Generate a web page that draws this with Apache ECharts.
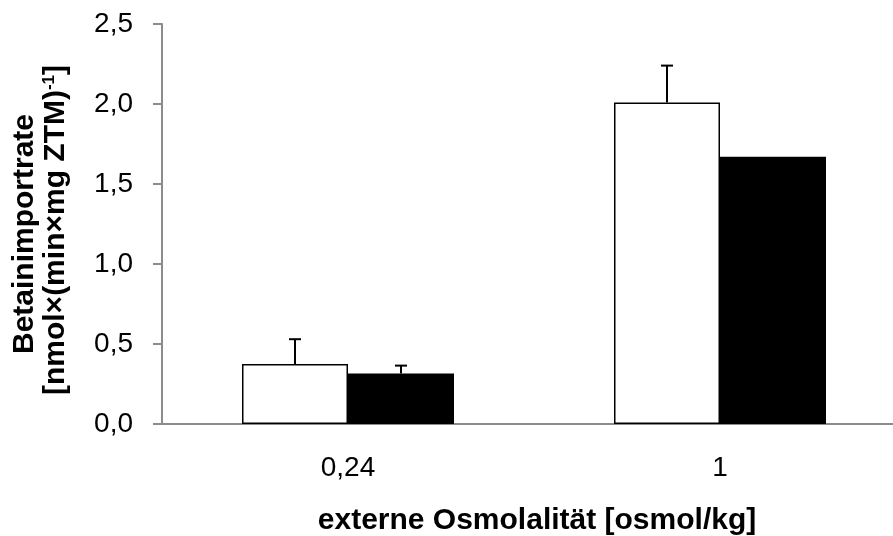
<!DOCTYPE html>
<html><head><meta charset="utf-8">
<script src="https://cdn.jsdelivr.net/npm/echarts@6/dist/echarts.min.js"></script>
<style>html,body{margin:0;padding:0;background:#fff}#c{width:893px;height:536px}</style>
</head><body><div id="c"></div>
<script>
var categories = ['0,24', '1'];
var whiteValues = [0.375, 2.01];
var whiteErrors = [0.155, 0.23];
var blackValues = [0.315, 1.67];
var blackErrors = [0.05, null];
var yTicks = [0, 0.5, 1.0, 1.5, 2.0, 2.5];

var BAR_W = 106;
var FONT = 'Liberation Sans, Arial, sans-serif';

function errData(vals, errs) {
  var out = [];
  for (var i = 0; i < vals.length; i++) {
    if (errs[i] != null) out.push([i, vals[i], vals[i] + errs[i]]);
  }
  return out;
}
function errRender(sign) {
  return function (params, api) {
    var i = api.value(0);
    var lo = api.coord([i, api.value(1)]);
    var hi = api.coord([i, api.value(2)]);
    var x = lo[0] + sign * BAR_W / 2;
    var cap = 6;
    return {
      type: 'group',
      children: [
        { type: 'line', shape: { x1: x, y1: lo[1], x2: x, y2: hi[1] }, style: { stroke: '#000', lineWidth: 2 } },
        { type: 'line', shape: { x1: x - cap, y1: hi[1], x2: x + cap, y2: hi[1] }, style: { stroke: '#000', lineWidth: 2 } }
      ]
    };
  };
}

var chart = echarts.init(document.getElementById('c'), null, { renderer: 'canvas' });
chart.setOption({
  animation: false,
  backgroundColor: '#fff',
  grid: { left: 162, width: 744, top: 24, bottom: 112, containLabel: false, outerBoundsMode: 'none' },
  xAxis: {
    type: 'category',
    data: categories,
    axisLine: { lineStyle: { color: '#8c8c8c', width: 2 } },
    axisTick: { show: false },
    axisLabel: { color: '#000', fontSize: 28, fontFamily: FONT, margin: 30 },
    splitLine: { show: false }
  },
  yAxis: {
    type: 'value',
    min: 0, max: 2.5, interval: 0.5,
    axisLine: { show: true, lineStyle: { color: '#8c8c8c', width: 2 } },
    axisTick: { show: true, inside: false, length: 9, lineStyle: { color: '#8c8c8c', width: 2 } },
    axisLabel: {
      color: '#000', fontSize: 28, fontFamily: FONT, margin: 29,
      formatter: function (v) { return v.toFixed(1).replace('.', ','); }
    },
    splitLine: { show: false }
  },
  graphic: [
    {
      type: 'text', x: 537, y: 521,
      style: { text: 'externe Osmolalität [osmol/kg]', font: 'bold 30px ' + FONT, fill: '#000', align: 'center', verticalAlign: 'middle' }
    },
    {
      type: 'text', x: 25, y: 234, rotation: Math.PI / 2,
      style: { text: 'Betainimportrate', font: 'bold 30px ' + FONT, fill: '#000', align: 'center', verticalAlign: 'middle' }
    },
    {
      type: 'text', x: 56, y: 230, rotation: Math.PI / 2,
      style: {
        text: '{b|[nmol×(min×mg ZTM)}{s|-1}{b|]}',
        align: 'center', verticalAlign: 'middle',
        rich: {
          b: { font: 'bold 30px ' + FONT, fill: '#000', color: '#000' },
          s: { font: 'bold 17px ' + FONT, fill: '#000', color: '#000', verticalAlign: 'top', padding: [0, 0, 12, 0] }
        }
      }
    }
  ],
  series: [
    {
      type: 'bar', data: whiteValues, barWidth: BAR_W, barGap: '0%',
      itemStyle: { color: '#fff', borderColor: '#000', borderWidth: 1.5 }
    },
    {
      type: 'bar', data: blackValues, barWidth: BAR_W, barGap: '0%',
      itemStyle: { color: '#000' }
    },
    {
      type: 'custom', renderItem: errRender(-1), data: errData(whiteValues, whiteErrors),
      encode: { x: 0, y: [1, 2] }, z: 10
    },
    {
      type: 'custom', renderItem: errRender(1), data: errData(blackValues, blackErrors),
      encode: { x: 0, y: [1, 2] }, z: 10
    }
  ]
});
</script></body></html>
